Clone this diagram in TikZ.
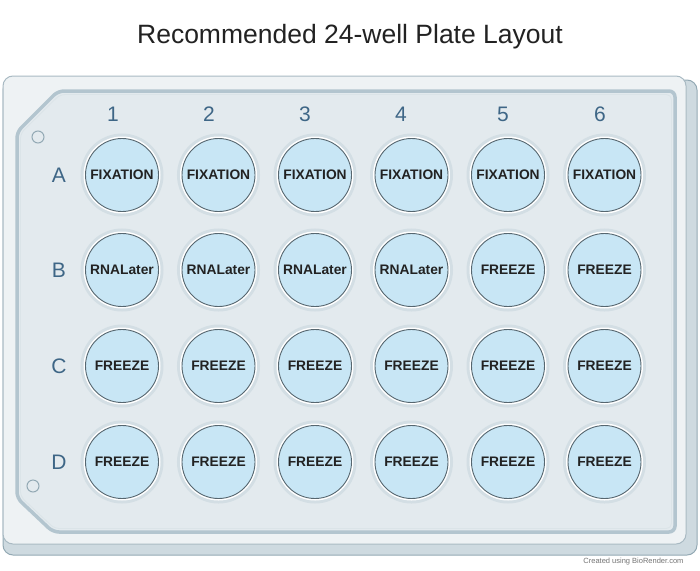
\documentclass[tikz,border=0pt]{standalone}
\usepackage{fontspec}
\setmainfont{Liberation Sans}
\definecolor{facefill}{HTML}{EEF2F4}
\definecolor{faceline}{HTML}{93A9B4}
\definecolor{depthfill}{HTML}{CEDAE0}
\definecolor{panelfill}{HTML}{E3EAEE}
\definecolor{panelline}{HTML}{A6BBC6}
\definecolor{halo}{HTML}{D3DEE4}
\definecolor{wellblue}{HTML}{C8E6F5}
\definecolor{wellline}{HTML}{56666F}
\definecolor{labelblue}{HTML}{3E6686}
\definecolor{titlegray}{HTML}{222222}
\tikzset{
  well/.style={circle, minimum size=73pt, inner sep=0pt, fill=wellblue, draw=wellline, line width=0.9pt,
    preaction={draw=halo, line width=10pt}, preaction={draw=white, line width=4pt},
    font=\fontsize{13.8}{15}\selectfont\bfseries, text=titlegray},
  collabel/.style={font=\fontsize{21}{23}\selectfont, text=labelblue},
  rowlabel/.style={font=\fontsize{21}{23}\selectfont, text=labelblue},
  hole/.style={circle, minimum size=12pt, inner sep=0pt, draw=faceline, line width=1pt, fill=panelfill},
}
\begin{document}
\begin{tikzpicture}[x=1pt,y=-1pt]
\useasboundingbox (0,0) rectangle (700,570);
\fill[white] (0,0) rectangle (700,570);
\node[font=\fontsize{26.5}{29}\selectfont, text=titlegray] (title) at (350,37) {Recommended 24-well Plate Layout};
% plate depth and face
\draw[fill=depthfill, draw=faceline, line width=1pt, rounded corners=10pt] (3,80) rectangle (697,555);
\draw[fill=facefill, draw=faceline!80, line width=1pt, rounded corners=10pt] (3,76) rectangle (686,544);
% inner panel
\draw[fill=panelfill, draw=panelline!85, line width=3.5pt, rounded corners=6pt]
  (58,91) -- (675,91) -- (675,532) -- (53,532) -- (17,498) -- (17,132) -- cycle;
\draw[draw=white!60!panelline, line width=0.8pt, rounded corners=5pt]
  (60,94.5) -- (671.5,94.5) -- (671.5,528.5) -- (54.5,528.5) -- (20.5,496.5) -- (20.5,133.5) -- cycle;
% holes
\node[hole] (h1) at (38,137) {};
\node[hole] (h2) at (33,486) {};
% column labels
\foreach \c/\x in {1/113,2/209,3/305,4/401,5/503,6/600}{
  \node[collabel] (col\c) at (\x,114) {\c};
}
% row labels
\foreach \r/\y in {A/175,B/270,C/366,D/462}{
  \node[rowlabel] (row\r) at (59,\y) {\r};
}
% wells
\foreach \c/\x in {1/122,2/218.5,3/315,4/411.5,5/508,6/604.5}{
  \node[well] (A\c) at (\x,175) {FIXATION};
  \node[well] (C\c) at (\x,366) {FREEZE};
  \node[well] (D\c) at (\x,462) {FREEZE};
}
\foreach \c/\x in {1/122,2/218.5,3/315,4/411.5}{
  \node[well] (B\c) at (\x,270) {RNALater};
}
\foreach \c/\x in {5/508,6/604.5}{
  \node[well] (B\c) at (\x,270) {FREEZE};
}
\node[font=\fontsize{7.5}{9}\selectfont, text=black!55, anchor=east] (credit) at (687,562) {Created using BioRender.com};
\end{tikzpicture}
\end{document}
